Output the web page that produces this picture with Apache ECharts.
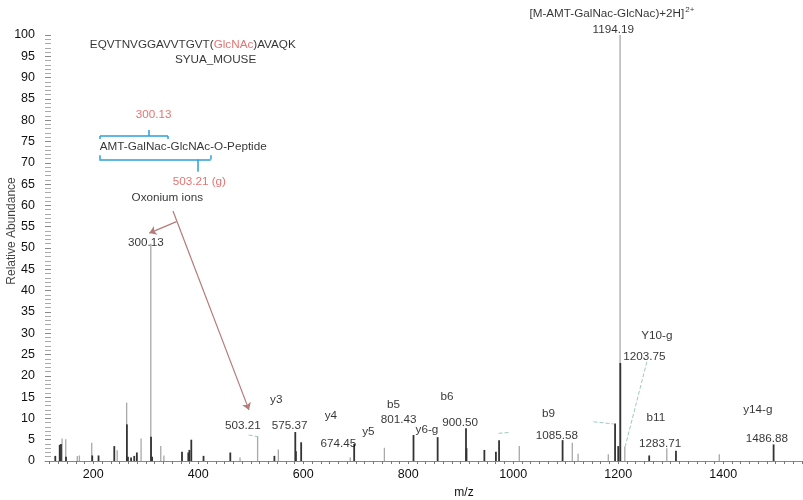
<!DOCTYPE html>
<html>
<head>
<meta charset="utf-8">
<script src="https://cdn.jsdelivr.net/npm/echarts@6/dist/echarts.min.js"></script>
<style>
html, body { margin: 0; padding: 0; background: #fff; }
#main { width: 803px; height: 500px; }
</style>
</head>
<body>
<div id="main"></div>
<script>
// peaks: [m/z, relative abundance]
let greyPeaks = [
	[141, 5.3], [148, 5.1], [170, 1.2], [174, 1.3], [197.5, 4.3], [246, 2.5], [264, 13.7],
	[291.5, 5.3], [310, 51], [329, 3.5], [335, 1.3], [480, 0.8], [513.5, 5.8], [553, 2.7],
	[690, 0.8], [755, 3.1], [1012, 3.5], [1113, 4.3], [1124, 1.7], [1181.6, 1.6], [1204, 100],
	[1213, 3.4], [1293, 3], [1393, 1.6]
];
let darkPeaks = [
	[127.6, 1.2], [136, 3.8], [138.5, 4], [148, 1], [198, 1.3], [210, 1.3], [240, 3.5],
	[264, 8.6], [266, 1], [272, 0.8], [278, 1.2], [283, 2], [310, 5.7], [312, 1],
	[369, 2.2], [381, 2], [383, 2.6], [386.7, 5], [410, 1.2], [461, 2], [545, 1.2],
	[584.8, 6.8], [586, 2.3], [596, 4.4], [697, 4], [810, 6.1], [856, 5.6], [910, 7.7],
	[911, 3], [945, 2.6], [967, 2.2], [973, 4.9], [1094, 4.9], [1194, 8.8], [1200, 3.5],
	[1204, 23], [1259, 1.3], [1310, 2.4], [1496, 3.9]
];

let xTickLabels = [200, 400, 600, 800, 1000, 1200, 1400];
let yTickLabels = [0, 5, 10, 15, 20, 25, 30, 35, 40, 45, 50, 55, 60, 65, 70, 75, 80, 85, 90, 95, 100];

// text annotations: [m/z, abundance, text, style]
let annotations = [
	[1188, 105, '{k|[M-AMT-GalNac-GlcNac)+2H]}{sup|2+}', 'k'],
	[1190.5, 101.2, '1194.19', 'k'],
	[389.5, 97.7, '{k|EQVTNVGGAVVTGVT(}{r|GlcNAc}{k|)AVAQK}', 'k'],
	[433, 94.1, 'SYUA_MOUSE', 'k'],
	[315, 81.2, '300.13', 'r'],
	[371.4, 73.8, 'AMT-GalNac-GlcNAc-O-Peptide', 'k'],
	[402, 65.6, '503.21 (g)', 'r'],
	[341, 61.7, 'Oxonium ions', 'k'],
	[300, 51.2, '300.13', 'k'],
	[548.6, 14.3, 'y3', 'k'],
	[485, 8.3, '503.21', 'k'],
	[574, 8.3, '575.37', 'k'],
	[652.7, 10.6, 'y4', 'k'],
	[667, 4.1, '674.45', 'k'],
	[724, 6.9, 'y5', 'k'],
	[772, 13.1, 'b5', 'k'],
	[781.5, 9.6, '801.43', 'k'],
	[835.6, 7.3, 'y6-g', 'k'],
	[873.7, 15.1, 'b6', 'k'],
	[899, 9, '900.50', 'k'],
	[1067.3, 11, 'b9', 'k'],
	[1083, 5.9, '1085.58', 'k'],
	[1273.7, 29.3, 'Y10-g', 'k'],
	[1250, 24.5, '1203.75', 'k'],
	[1271.7, 10.2, 'b11', 'k'],
	[1280, 4.1, '1283.71', 'k'],
	[1466, 12, 'y14-g', 'k'],
	[1483, 5.3, '1486.88', 'k']
];

// y axis title, placed left of the axis
let yTitle = [44.2, 54, 'Relative Abundance'];

// bracket segments (blue), in data units
let bracketLines = [
	[[212.8, 75.6], [212.8, 76.3]], [[212.8, 76.3], [342.3, 76.3]], [[342.3, 76.3], [342.3, 75.6]],
	[[306.1, 76.3], [306.1, 77.7]],
	[[211.4, 71.8], [211.4, 70.8]], [[211.4, 70.8], [423.6, 70.8]], [[423.6, 70.8], [423.6, 71.8]],
	[[398.9, 70.8], [398.9, 67.9]]
];
// arrows (from -> to)
let arrowLines = [
	[[351.8, 58.7], [496.6, 12.0]],
	[[358.5, 56.2], [306.7, 53.5]]
];
// dashed leaders
let leaderLines = [
	[[1254.6, 23.3], [1213.3, 3.4]],
	[[1153, 9.2], [1191, 8.7]],
	[[972, 6.5], [994, 6.7]],
	[[496, 6.1], [514, 5.7]]
];

// minor ticks: 12 per labelled step of 200
let xTicks = [];
for (let i = -6; i <= 82; i++) {
	let v = 200 + i * 200 / 12;
	if (v >= 110 && v <= 1550) xTicks.push(v);
}

let chartDom = document.getElementById('main');
let myChart = echarts.init(chartDom);

function seg(list, style, sym) {
	return list.map((s) => [
		{ coord: s[0], symbol: 'none' },
		{ coord: s[1], symbol: sym, lineStyle: style }
	]);
}

let font = 'Liberation Sans, Arial, sans-serif';
let fs = 11.7;

let option = {
	animation: false,
	textStyle: { fontFamily: font },
	grid: { left: 45, right: 0, top: 35, bottom: 39, containLabel: false, outerBoundsMode: 'none' },
	xAxis: {
		type: 'value',
		min: 108,
		max: 1552,
		name: 'm/z',
		nameLocation: 'middle',
		nameGap: 26,
		nameTextStyle: { color: '#111', fontSize: 12, fontFamily: font, padding: [0, 0, 0, 80] },
		axisLine: { lineStyle: { color: '#888', width: 1 } },
		axisTick: { customValues: xTicks, length: 3, lineStyle: { color: '#777' } },
		axisLabel: {
			customValues: xTickLabels, color: '#111', fontSize: 12.5, margin: 7, fontFamily: font,
			formatter: (v) => String(v)
		},
		splitLine: { show: false }
	},
	yAxis: {
		type: 'value',
		min: 0,
		max: 100,
		interval: 5,
		axisLine: { show: false },
		axisTick: { inside: true, length: 6, lineStyle: { color: '#888' } },
		minorTick: { show: true, splitNumber: 5, length: 6, lineStyle: { color: '#aaa' } },
		axisLabel: { customValues: yTickLabels, color: '#111', fontSize: 12.5, margin: 10, fontFamily: font },
		splitLine: { show: false }
	},
	series: [
		{
			type: 'bar',
			data: greyPeaks,
			barWidth: 1.3,
			barGap: '-100%',
			itemStyle: { color: '#a8a8a8' },
			silent: true
		},
		{
			type: 'bar',
			data: darkPeaks,
			barWidth: 1.8,
			barGap: '-100%',
			itemStyle: { color: '#333' },
			silent: true
		},
		{
			type: 'scatter',
			clip: false,
			symbolSize: 0,
			silent: true,
			data: [{
				value: [yTitle[0], yTitle[1]],
				label: { formatter: yTitle[2], rotate: 90, fontSize: 12, color: '#111' }
			}]
		},
		{
			type: 'scatter',
			clip: false,
			symbolSize: 0,
			silent: true,
			data: annotations.map((a) => ({
				value: [a[0], a[1]],
				label: {
					formatter: a[2],
					color: a[3] === 'r' ? '#e05050' : '#000'
				}
			})),
			label: {
				show: true,
				position: 'inside',
				fontSize: fs,
				fontFamily: font,
				rich: {
					k: { color: '#000', fontSize: fs, fontFamily: font },
					r: { color: '#e05050', fontSize: fs, fontFamily: font },
					sup: { color: '#000', fontSize: 8, fontFamily: font, padding: [0, 0, 8, 1] }
				}
			},
			markLine: {
				silent: true,
				animation: false,
				symbolSize: 7,
				label: { show: false },
				data: [].concat(
					seg(bracketLines, { color: '#2a9fd8', width: 1.5, type: 'solid' }, 'none'),
					seg(arrowLines, { color: '#b57a7a', width: 1.2, type: 'solid' }, 'arrow'),
					seg(leaderLines, { color: '#9cc9c0', width: 1, type: 'dashed' }, 'none')
				)
			}
		}
	]
};
option.series[2].label = { show: true, position: 'inside', fontFamily: font };

myChart.setOption(option);
</script>
</body>
</html>
